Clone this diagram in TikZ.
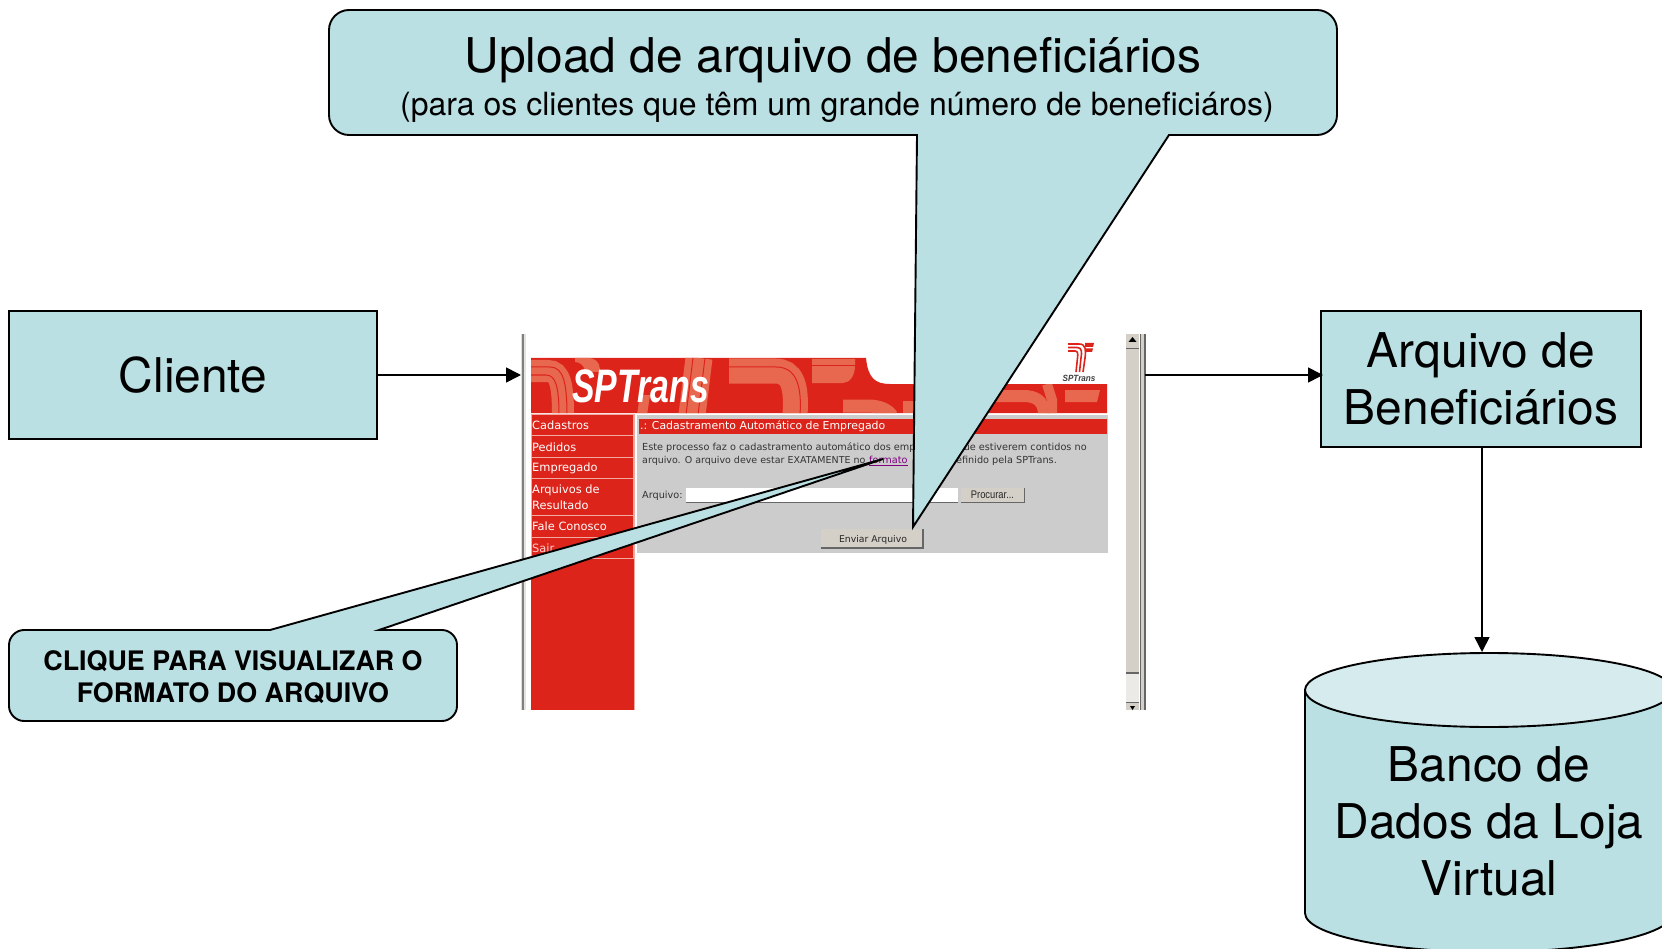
\documentclass[tikz,border=0pt]{standalone}
\usepackage{fontspec}
\setmainfont{TeX Gyre Heros}
\newfontfamily\webfont{DejaVu Sans}
\newfontfamily\arialfont{Liberation Sans}
\usetikzlibrary{arrows.meta,calc}
\definecolor{callout}{HTML}{BAE0E3}
\definecolor{cyltop}{HTML}{D6EBEE}
\definecolor{webred}{HTML}{DC241A}
\definecolor{stripe}{HTML}{E8674F}
\definecolor{panel}{HTML}{CCCCCC}
\definecolor{btn}{HTML}{D4D0C8}
\definecolor{linkpurple}{HTML}{800080}
\definecolor{menuedge}{HTML}{F2A9A0}
\definecolor{darkedge}{HTML}{666666}
\newcommand{\fs}[1]{\fontsize{#1}{#1}\selectfont}
\tikzset{
  x=1pt,y=-1pt,
  teal box/.style={draw=black,line width=1.9pt,fill=callout},
  conn/.style={line width=1.6pt,-{Triangle[length=15pt,width=15pt]}},
  lbl/.style={inner sep=0pt,align=center,text=black},
  big text/.style={font=\fontsize{47.9}{57}\selectfont},
  web/.style={inner sep=0pt,anchor=west,font=\webfont\fs{9.7},text=black!80},
  menu text/.style={inner sep=0pt,anchor=west,font=\webfont\fs{11.4},text=white},
  menu item/.style={draw=menuedge,line width=1pt,fill=webred},
  stripe line/.style={draw=stripe,line width=6pt},
  thin red/.style={draw=webred,line width=1pt},
}
\begin{document}
\begin{tikzpicture}
\useasboundingbox (0,0) rectangle (1662,949);
\fill[white] (0,0) rectangle (1662,949);
% ---------- screenshot: window edges
\fill[btn!70] (521,334) rectangle (522,710);
\fill[gray] (522,334) rectangle (524,710);
\fill[btn!60] (524,334) rectangle (526,710);
% header
\begin{scope}
\clip (531,358) -- (866,358) .. controls (868,378) and (875,384) .. (890,384) -- (1107,384) -- (1107,413) -- (531,413) -- cycle;
\fill[webred] (520,350) rectangle (1110,420);
% left band
\draw[stripe line,line width=22pt] (531,371) -- (548,371) .. controls (560,371) and (563,385) .. (563,415);
\draw[thin red] (531,367) -- (550,367) .. controls (563,367) and (567,382) .. (567,415);
\draw[thin red] (531,375) -- (546,375) .. controls (556,375) and (559,388) .. (559,415);
\fill[stripe] (575,358) -- (590,358) .. controls (600,360) and (600,368) .. (600,372) -- (585,372) .. controls (585,366) and (580,362) .. (575,362) -- cycle;
\fill[stripe] (640,395) -- (650,395) -- (647,415) -- (637,415) -- cycle;
% slanted bands
\draw[stripe line,line width=27pt] (699,358) -- (692,415);
\draw[thin red] (693,358) -- (686,415);
\draw[thin red] (705,358) -- (698,415);
% big band
\draw[stripe line,line width=25pt] (729,371) -- (775,371) .. controls (792,371) and (797,385) .. (795,415);
\draw[thin red] (729,367) -- (776,367) .. controls (796,367) and (802,385) .. (800,415);
% right of the big band
\fill[stripe] (812,359) -- (855,359) -- (855,366) .. controls (855,375) and (850,383) .. (843,383) -- (812,383) -- cycle;
\draw[thin red] (812,366) -- (855,366);
% lower band
\draw[stripe line,line width=13pt] (843,406) -- (868,406) .. controls (880,406) and (888,410) .. (892,416);
\fill[stripe] (903,401) -- (915,401) -- (915,413) -- (903,413) -- cycle;
% right-hand bands
\draw[stripe line,line width=12pt] (995,396) -- (1023,396) .. controls (1035,396) and (1044,400) .. (1044,415);
\draw[stripe line,line width=10pt] (1047,384) -- (1052,400) -- (1052,415);
\fill[stripe] (1065,390) -- (1100,390) -- (1097,402) -- (1065,402) -- cycle;
\end{scope}
\node[inner sep=0pt,anchor=west,text=white] (logo) at (572,386) {\scalebox{0.72}[1]{\arialfont\bfseries\itshape\fs{47}SPTrans}};
% small logo
\draw[webred,line width=1.6pt] (1068,344) -- (1079,344) .. controls (1086,344) and (1086,350) .. (1085,358) -- (1083,372);
\draw[webred,line width=1.6pt] (1068,347.5) -- (1077,347.5) .. controls (1082,347.5) and (1082,352) .. (1081,358) -- (1079.5,372);
\draw[webred,line width=1.6pt] (1068,351) -- (1075,351) .. controls (1078,351) and (1078,354) .. (1077.5,358) -- (1076,372);
\fill[webred] (1085,343) -- (1094,343) -- (1093,347) -- (1085,347) -- cycle;
\fill[webred] (1086,348.5) -- (1093,348.5) -- (1092,352) -- (1086,352) -- cycle;
\node[inner sep=0pt,anchor=center,text=black!75] (smalllogo) at (1079,378) {\scalebox{0.9}[1]{\arialfont\bfseries\itshape\fs{9}SPTrans}};
% sidebar
\fill[webred] (531,414) rectangle (634,710);
\draw[menuedge,line width=1pt] (634,414) -- (634,710);
\draw[menu item] (531,414) rectangle (633,435);
\draw[menu item] (531,435) rectangle (633,457);
\draw[menu item] (531,457) rectangle (633,478);
\draw[menu item] (531,478) rectangle (633,515);
\draw[menu item] (531,515) rectangle (633,537);
\draw[menu item] (531,537) rectangle (633,558);
\node[menu text] (m1) at (532,425) {Cadastros};
\node[menu text] (m2) at (532,447) {Pedidos};
\node[menu text] (m3) at (532,468) {Empregado};
\node[menu text] (m4) at (532,490) {Arquivos de};
\node[menu text] (m4b) at (532,505.5) {Resultado};
\node[menu text] (m5) at (532,526) {Fale Conosco};
\node[menu text,text=white!80!red] (m6) at (532,548) {Sair};
% panel
\fill[panel] (637,415) rectangle (1108,553);
\fill[webred] (639,419) rectangle (1107,434);
\node[menu text,font=\webfont\fs{10.9}] (ptitle) at (640,426.5) {.: Cadastramento Automático de Empregado};
\node[web] (d1) at (642,448) {Este processo faz o cadastramento automático dos empregados que estiverem contidos no};
\node[web,font=\webfont\fs{9.5}] (d2) at (642,461) {arquivo. O arquivo deve estar EXATAMENTE no};
\node[web,text=linkpurple] (d3) at (869,461) {\underline{formato}};
\node[web,anchor=east] (d4) at (1057,461) {definido pela SPTrans.};
\node[web] (d5) at (642,496) {Arquivo:};
\fill[white] (686,488) rectangle (958,502);
\draw[darkedge,line width=1pt] (686,502) -- (958,502);
\fill[btn] (961,488) rectangle (1024,502);
\draw[darkedge,line width=.8pt] (961,502) -- (1024,502) -- (1024,488);
\node[inner sep=0pt,text=black!85] (b1) at (992.5,495) {\scalebox{0.85}[1]{\arialfont\fs{11}Procurar...}};
\fill[btn] (821,529) rectangle (923,548);
\draw[darkedge,line width=1.2pt] (821,548) -- (923,548) -- (923,529);
\node[inner sep=0pt,font=\webfont\fs{9.3},text=black!85] (b2) at (873,539.5) {Enviar Arquivo};
% scrollbar
\fill[btn] (1126,334) rectangle (1139,673);
\fill[btn!45] (1126,673) rectangle (1139,702);
\fill[btn] (1126,702) rectangle (1139,710);
\draw[darkedge,line width=.8pt] (1126,348) -- (1139,348);
\draw[darkedge,line width=1.2pt] (1126,673) -- (1139,673);
\draw[darkedge,line width=.8pt] (1139,702) -- (1126,702);
\fill[black] (1128.5,342) -- (1136.5,342) -- (1132.5,337) -- cycle;
\fill[black] (1130,706) -- (1135,706) -- (1132.5,710) -- cycle;
\fill[darkedge] (1139.5,334) rectangle (1141,710);
\fill[btn] (1141,334) rectangle (1144,710);
\fill[darkedge] (1144,334) rectangle (1146,710);
% ---------- callouts (drawn over the screenshot)
\draw[teal box,line join=miter] (349,10) -- (1317,10) .. controls (1328,10) and (1337,19) .. (1337,30) -- (1337,115) .. controls (1337,126) and (1328,135) .. (1317,135) -- (1169,135) -- (913,527) -- (917,135) -- (349,135) .. controls (338,135) and (329,126) .. (329,115) -- (329,30) .. controls (329,19) and (338,10) .. (349,10) -- cycle;
\node[lbl,font=\fs{47.9}] (uptitle) at (833,60.5) {Upload de arquivo de beneficiários};
\node[lbl,font=\fs{32}] (upsub) at (837,107) {(para os clientes que têm um grande número de beneficiáros)};
\draw[teal box,line join=miter] (24,630) -- (270,630) -- (883,459) -- (379,630) -- (442,630) .. controls (450,630) and (457,637) .. (457,645) -- (457,706) .. controls (457,714) and (450,721) .. (442,721) -- (24,721) .. controls (16,721) and (9,714) .. (9,706) -- (9,645) .. controls (9,637) and (16,630) .. (24,630) -- cycle;
\node[lbl,font=\fontsize{26.85}{32}\selectfont\bfseries] (clique) at (233,677) {CLIQUE PARA VISUALIZAR O\\FORMATO DO ARQUIVO};
% ---------- boxes
\node[teal box,lbl,big text,minimum width=368pt,minimum height=128pt] (cliente) at (193,375) {Cliente};
\node[teal box,lbl,big text,minimum width=320pt,minimum height=136pt] (arquivo) at (1481,379) {Arquivo de\\Beneficiários};
% cylinder
\draw[teal box] (1305,690) -- (1305,913) .. controls (1305,935) and (1390,952) .. (1489,952) .. controls (1590,952) and (1673,935) .. (1673,913) -- (1673,690) -- cycle;
\draw[draw=black,line width=1.9pt,fill=cyltop] (1489,690) ellipse [x radius=184pt,y radius=37pt];
\node[lbl,big text] (banco) at (1489,821) {Banco de\\Dados da Loja\\Virtual};
% ---------- connectors
\coordinate (shotin) at (521,375);
\coordinate (shotout) at (1145,375);
\coordinate (arqin) at (1323,375);
\coordinate (dbtop) at (1482,652);
\draw[conn] (cliente.east) -- (shotin);
\draw[conn] (shotout) -- (arqin);
\draw[conn] (arquivo.south -| dbtop) -- (dbtop);
\end{tikzpicture}
\end{document}
